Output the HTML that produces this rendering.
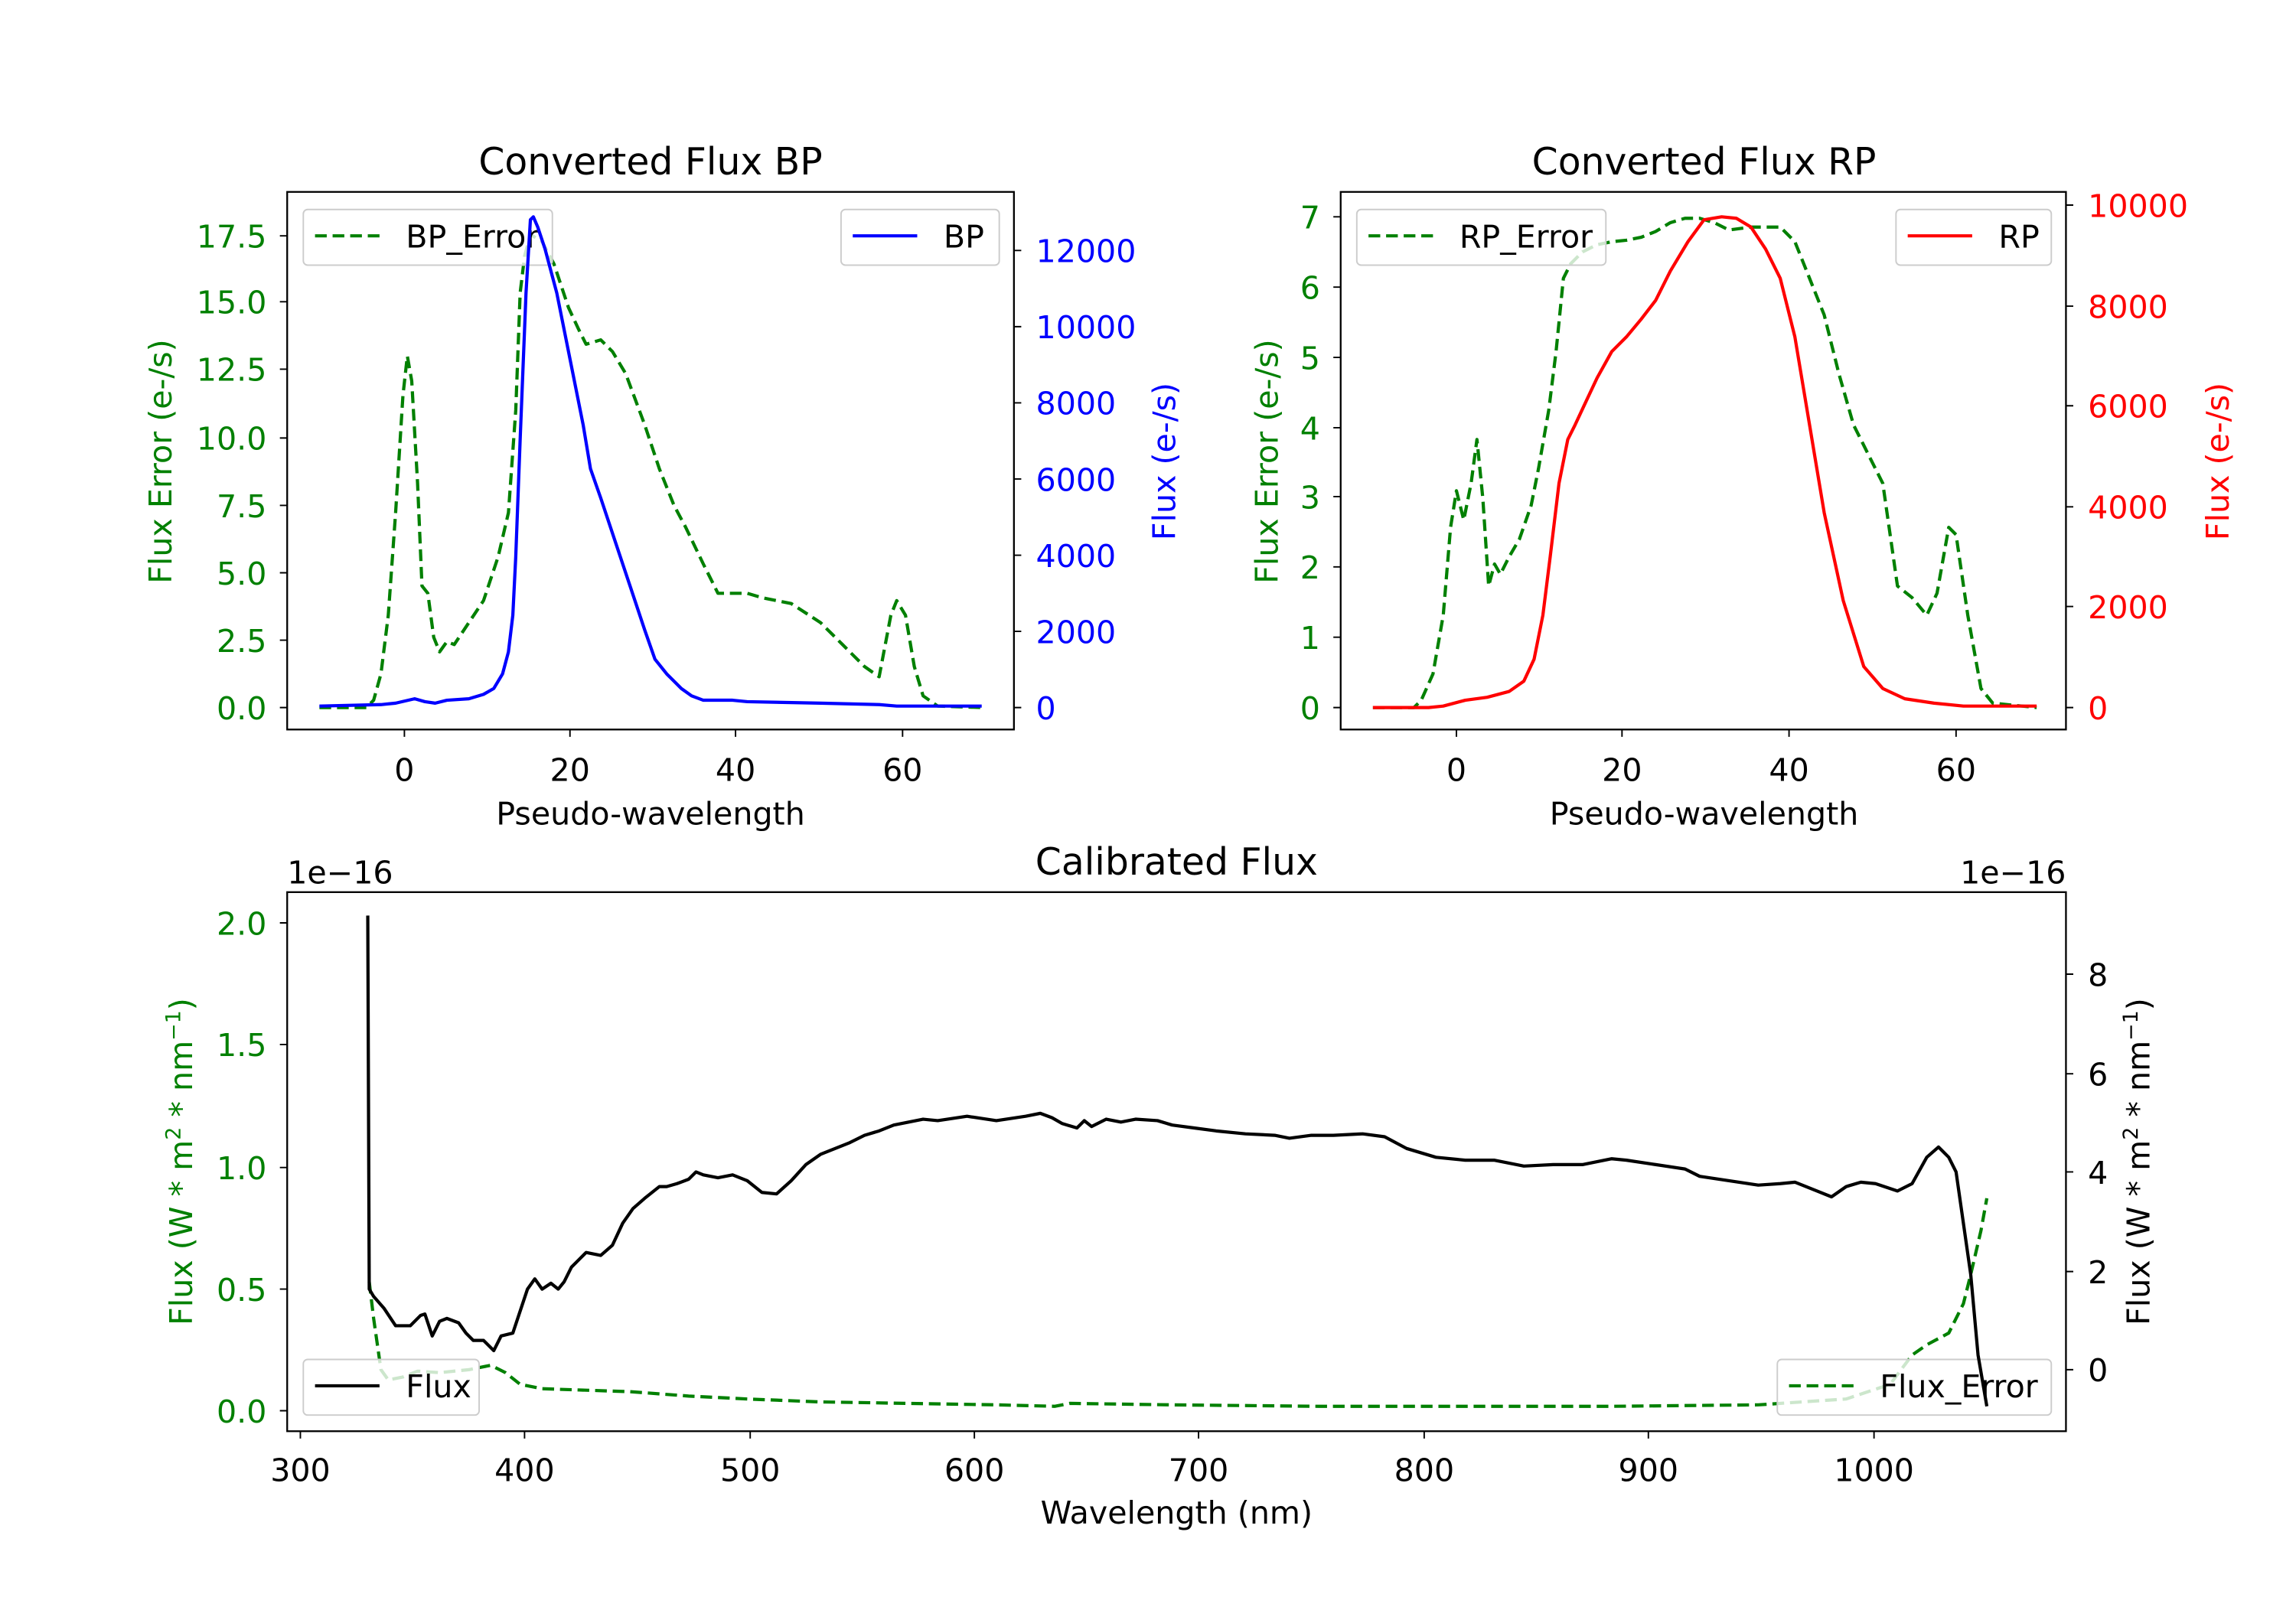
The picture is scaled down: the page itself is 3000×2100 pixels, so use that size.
<!DOCTYPE html>
<html><head><style>html,body{margin:0;padding:0;background:#fff}svg{display:block}</style></head><body>
<svg width="3000" height="2100" viewBox="0 0 1567 1097" preserveAspectRatio="none" xmlns="http://www.w3.org/2000/svg" font-family="'DejaVu Sans','Liberation Sans',sans-serif" font-size="21.5">
<rect width="1567" height="1097" fill="#fff"/>
<!-- BP -->
<polyline fill="none" stroke-linejoin="round" stroke="green" stroke-width="2.2" stroke-dasharray="8,4" points="218,483 250,483 255,478 260,460 265,420 270,350 275,270 278,243 281,260 285,330 288,400 292,405 296,435 300,445 305,438 310,440 320,425 330,410 340,380 347,350 352,280 355,200 358,175 362,160 370,165 378,180 388,210 395,225 400,235 410,232 418,240 427,255 440,290 450,320 460,345 468,360 480,385 490,405 500,405 510,405 520,408 540,412 560,425 575,440 590,455 600,462 608,420 612,410 618,420 624,455 630,475 640,482 670,483"/>
<rect x="207" y="143" width="170" height="38" rx="3" fill="#fff" fill-opacity="0.8" stroke="#ccc"/>
<line x1="215" y1="161" x2="259" y2="161" stroke="green" stroke-width="2.2" stroke-dasharray="8,4"/>
<text x="277" y="169">BP_Error</text>
<polyline fill="none" stroke="blue" stroke-width="2.2" stroke-linejoin="round" points="218,482 260,481 270,480 283,477 290,479 297,480 305,478 320,477 330,474 337,470 343,460 347,445 350,420 352,380 355,300 359,200 362,150 364,148 367,155 372,170 380,200 390,250 398,290 403,320 410,340 420,370 430,400 440,430 447,450 455,460 465,470 472,475 480,478 500,478 510,479 560,480 600,481 612,482 640,482 670,482"/>
<rect x="574" y="143" width="108" height="38" rx="3" fill="#fff" fill-opacity="0.8" stroke="#ccc"/>
<line x1="582" y1="161" x2="626" y2="161" stroke="blue" stroke-width="2.2"/>
<text x="644" y="169">BP</text>
<rect x="196" y="131" width="496" height="367" fill="none" stroke="#000" stroke-width="1.2"/>
<path stroke="#000" stroke-width="1" d="M196 483h-5M196 437h-5M196 391h-5M196 345h-5M196 299h-5M196 252h-5M196 206h-5M196 161h-5M692 483h5M692 431h5M692 379h5M692 327h5M692 275h5M692 223h5M692 171h5M276 498v5M389 498v5M502 498v5M616 498v5"/>
<g fill="green" text-anchor="end">
<text x="182" y="491">0.0</text><text x="182" y="445">2.5</text><text x="182" y="399">5.0</text><text x="182" y="353">7.5</text><text x="182" y="307">10.0</text><text x="182" y="260">12.5</text><text x="182" y="214">15.0</text><text x="182" y="169">17.5</text></g>
<g fill="blue">
<text x="707" y="491">0</text><text x="707" y="439">2000</text><text x="707" y="387">4000</text><text x="707" y="335">6000</text><text x="707" y="283">8000</text><text x="707" y="231">10000</text><text x="707" y="179">12000</text></g>
<g text-anchor="middle"><text x="276" y="533">0</text><text x="389" y="533">20</text><text x="502" y="533">40</text><text x="616" y="533">60</text>
<text x="444" y="563">Pseudo-wavelength</text><text x="444" y="119" font-size="25.5">Converted Flux BP</text></g>
<text transform="translate(117,315) rotate(-90)" text-anchor="middle" fill="green">Flux Error (e-/s)</text>
<text transform="translate(802,315) rotate(-90)" text-anchor="middle" fill="blue">Flux (e-/s)</text>

<!-- RP -->
<polyline fill="none" stroke="green" stroke-width="2.2" stroke-dasharray="8,4" stroke-linejoin="round" points="937,483 965,483 970,478 978,460 985,420 990,360 994,335 999,355 1004,330 1008,300 1012,340 1016,400 1020,385 1024,392 1030,380 1037,368 1045,345 1050,320 1057,280 1062,240 1067,190 1072,180 1080,172 1090,167 1100,165 1110,164 1120,162 1130,158 1140,152 1150,149 1160,149 1170,152 1180,157 1195,155 1215,155 1225,165 1235,190 1245,215 1255,255 1265,290 1275,310 1285,330 1295,400 1305,408 1315,420 1322,405 1330,360 1335,365 1343,420 1352,470 1360,480 1390,483"/>
<rect x="926" y="143" width="170" height="38" rx="3" fill="#fff" fill-opacity="0.8" stroke="#ccc"/>
<line x1="934" y1="161" x2="978" y2="161" stroke="green" stroke-width="2.2" stroke-dasharray="8,4"/>
<text x="996" y="169">RP_Error</text>
<polyline fill="none" stroke="red" stroke-width="2.2" stroke-linejoin="round" points="937,483 975,483 985,482 1000,478 1015,476 1030,472 1040,465 1047,450 1053,420 1058,380 1064,330 1070,300 1075,290 1082,275 1090,258 1100,240 1110,230 1120,218 1130,205 1140,185 1152,165 1163,150 1175,148 1185,149 1195,155 1205,170 1215,190 1225,230 1235,290 1245,350 1258,410 1272,455 1285,470 1300,477 1320,480 1340,482 1390,482"/>
<rect x="1294" y="143" width="106" height="38" rx="3" fill="#fff" fill-opacity="0.8" stroke="#ccc"/>
<line x1="1302" y1="161" x2="1346" y2="161" stroke="red" stroke-width="2.2"/>
<text x="1364" y="169">RP</text>
<rect x="915" y="131" width="495" height="367" fill="none" stroke="#000" stroke-width="1.2"/>
<path stroke="#000" stroke-width="1" d="M915 483h-5M915 435h-5M915 387h-5M915 339h-5M915 292h-5M915 244h-5M915 196h-5M915 148h-5M1410 483h5M1410 414h5M1410 346h5M1410 277h5M1410 209h5M1410 140h5M994 498v5M1107 498v5M1221 498v5M1335 498v5"/>
<g fill="green" text-anchor="end">
<text x="901" y="491">0</text><text x="901" y="443">1</text><text x="901" y="395">2</text><text x="901" y="347">3</text><text x="901" y="300">4</text><text x="901" y="252">5</text><text x="901" y="204">6</text><text x="901" y="156">7</text></g>
<g fill="red">
<text x="1425" y="491">0</text><text x="1425" y="422">2000</text><text x="1425" y="354">4000</text><text x="1425" y="285">6000</text><text x="1425" y="217">8000</text><text x="1425" y="148">10000</text></g>
<g text-anchor="middle"><text x="994" y="533">0</text><text x="1107" y="533">20</text><text x="1221" y="533">40</text><text x="1335" y="533">60</text>
<text x="1163" y="563">Pseudo-wavelength</text><text x="1163" y="119" font-size="25.5">Converted Flux RP</text></g>
<text transform="translate(872,315) rotate(-90)" text-anchor="middle" fill="green">Flux Error (e-/s)</text>
<text transform="translate(1521,315) rotate(-90)" text-anchor="middle" fill="red">Flux (e-/s)</text>

<!-- Calibrated -->
<polyline fill="none" stroke="green" stroke-width="2.2" stroke-dasharray="8,4" stroke-linejoin="round" points="252,875 255,900 260,935 265,942 275,940 285,936 300,937 320,935 335,932 345,937 355,945 370,948 400,949 430,950 470,953 510,955 560,957 620,958 680,959 720,960 730,958 800,959 900,960 1000,960 1100,960 1200,959 1260,955 1290,945 1305,925 1315,918 1330,910 1340,890 1345,870 1352,840 1356,818"/>
<rect x="1213" y="928" width="187" height="38" rx="3" fill="#fff" fill-opacity="0.8" stroke="#ccc"/>
<line x1="1221" y1="946" x2="1265" y2="946" stroke="green" stroke-width="2.2" stroke-dasharray="8,4"/>
<text x="1283" y="954">Flux_Error</text>
<rect x="207" y="928" width="120" height="38" rx="3" fill="#fff" fill-opacity="0.8" stroke="#ccc"/>
<line x1="215" y1="946" x2="259" y2="946" stroke="#000" stroke-width="2.2"/>
<text x="277" y="954">Flux</text>
<polyline fill="none" stroke="#000" stroke-width="2.2" stroke-linejoin="round" points="251,625 252,880 255,885 262,893 270,905 280,905 287,898 290,897 295,912 300,902 305,900 313,903 318,910 323,915 330,915 337,922 342,912 350,910 355,895 360,880 365,873 370,880 376,876 381,880 385,875 390,865 395,860 400,855 410,857 418,850 425,835 432,825 440,818 450,810 455,810 462,808 470,805 475,800 480,802 490,804 500,802 510,806 520,814 530,815 540,806 550,795 560,788 570,784 580,780 590,775 600,772 610,768 630,764 640,765 660,762 680,765 700,762 710,760 718,763 725,767 735,770 740,765 745,769 755,764 765,766 775,764 790,765 800,768 815,770 830,772 850,774 870,775 880,777 895,775 910,775 930,774 945,776 960,784 980,790 1000,792 1020,792 1040,796 1060,795 1080,795 1100,791 1110,792 1130,795 1150,798 1160,803 1180,806 1200,809 1215,808 1225,807 1240,813 1250,817 1260,810 1270,807 1280,808 1295,813 1305,808 1315,790 1323,783 1330,790 1335,800 1345,870 1350,925 1356,960"/>
<rect x="196" y="609" width="1214" height="368" fill="none" stroke="#000" stroke-width="1.2"/>
<path stroke="#000" stroke-width="1" d="M196 963h-5M196 880h-5M196 797h-5M196 713h-5M196 630h-5M1410 935h5M1410 868h5M1410 800h5M1410 733h5M1410 665h5M205 977v5M358 977v5M512 977v5M665 977v5M818 977v5M972 977v5M1125 977v5M1279 977v5"/>
<g fill="green" text-anchor="end">
<text x="182" y="971">0.0</text><text x="182" y="888">0.5</text><text x="182" y="805">1.0</text><text x="182" y="721">1.5</text><text x="182" y="638">2.0</text></g>
<g><text x="1425" y="943">0</text><text x="1425" y="876">2</text><text x="1425" y="808">4</text><text x="1425" y="741">6</text><text x="1425" y="673">8</text>
<text x="196" y="603">1e−16</text><text x="1410" y="603" text-anchor="end">1e−16</text></g>
<g text-anchor="middle"><text x="205" y="1011">300</text><text x="358" y="1011">400</text><text x="512" y="1011">500</text><text x="665" y="1011">600</text><text x="818" y="1011">700</text><text x="972" y="1011">800</text><text x="1125" y="1011">900</text><text x="1279" y="1011">1000</text>
<text x="803" y="1040">Wavelength (nm)</text><text x="803" y="597" font-size="25.5">Calibrated Flux</text></g>
<text transform="translate(131,793) rotate(-90)" text-anchor="middle" fill="green">Flux (W * m<tspan font-size="14" dy="-8">2</tspan><tspan dy="8"> * nm</tspan><tspan font-size="14" dy="-8">−1</tspan><tspan dy="8">)</tspan></text>
<text transform="translate(1467,793) rotate(-90)" text-anchor="middle">Flux (W * m<tspan font-size="14" dy="-8">2</tspan><tspan dy="8"> * nm</tspan><tspan font-size="14" dy="-8">−1</tspan><tspan dy="8">)</tspan></text>
</svg>
</body></html>
